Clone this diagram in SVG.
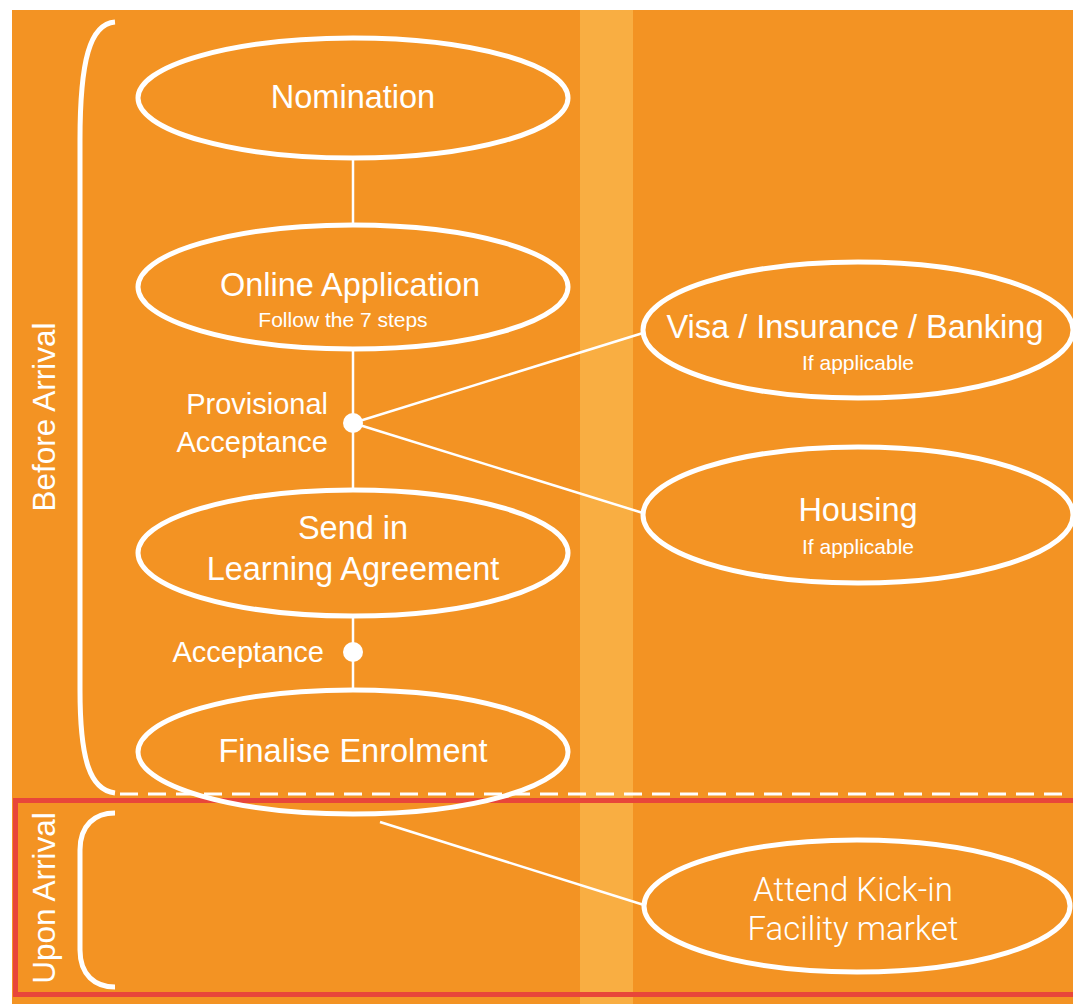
<svg xmlns="http://www.w3.org/2000/svg" width="1073" height="1004" viewBox="0 0 1073 1004">
<style>
.node{fill:none;stroke:#fff;stroke-width:5}
.br{fill:none;stroke:#fff;stroke-width:5;stroke-linecap:butt}
.conn{stroke:#fff;stroke-width:2.5;fill:none}
.t{font-family:"Liberation Sans",Arial,sans-serif;fill:#fff;text-anchor:middle}
.big{font-size:32.5px}
.small{font-size:21px}
.lab{font-family:"Liberation Sans",Arial,sans-serif;fill:#fff;font-size:29px;text-anchor:end}
.side{font-family:"Liberation Sans",Arial,sans-serif;fill:#fff;font-size:31.5px;text-anchor:middle}
.thin{font-family:Roboto,"Liberation Sans",sans-serif;font-weight:300;fill:#fff;font-size:33px;text-anchor:middle}
</style>
<rect x="0" y="0" width="1073" height="1004" fill="#fff"/>
<rect x="12" y="10" width="1061" height="994" fill="#F39323"/>
<rect x="580" y="10" width="53" height="994" fill="#F9AE42"/>
<rect x="15.5" y="800.5" width="1070" height="194" fill="none" stroke="#E8463A" stroke-width="5"/>
<line x1="120" y1="794" x2="1062" y2="794" stroke="#fff" stroke-width="3" stroke-dasharray="18,10"/>
<g id="brackets">
<path class="br" d="M115,22 C90,24 80,60 80,140 L80,690 C80,760 90,790 115,793"/>
<path class="br" d="M115,813 C95,813 80,825 80,850 L80,950 C80,975 95,987 115,987"/>
<text class="side" transform="translate(55,417) rotate(-90)">Before Arrival</text>
<text class="side" transform="translate(55,898) rotate(-90)">Upon Arrival</text>
</g>
<g id="connectors">
<line class="conn" x1="353" y1="158" x2="353" y2="225"/>
<line class="conn" x1="353" y1="350" x2="353" y2="490"/>
<line class="conn" x1="353" y1="617" x2="353" y2="690"/>
<line class="conn" x1="353" y1="423" x2="643" y2="333"/>
<line class="conn" x1="353" y1="423" x2="643" y2="513"/>
<line class="conn" x1="380" y1="822" x2="644" y2="905"/>
<circle cx="353" cy="423" r="10" fill="#fff"/>
<circle cx="353" cy="652" r="10" fill="#fff"/>
<text class="lab" x="328" y="414">Provisional</text>
<text class="lab" x="328" y="452">Acceptance</text>
<text class="lab" x="324" y="662">Acceptance</text>
</g>
<g id="nomination">
<ellipse class="node" cx="353" cy="98" rx="215" ry="60"/>
<text class="t big" x="353" y="108">Nomination</text>
</g>
<g id="online-application">
<ellipse class="node" cx="353" cy="287" rx="215" ry="62"/>
<text class="t big" x="350" y="296">Online Application</text>
<text class="t small" x="343" y="327">Follow the 7 steps</text>
</g>
<g id="learning-agreement">
<ellipse class="node" cx="353" cy="553" rx="215" ry="63"/>
<text class="t big" x="353" y="539">Send in</text>
<text class="t big" x="353" y="580">Learning Agreement</text>
</g>
<g id="finalise-enrolment">
<ellipse class="node" cx="353" cy="752" rx="215" ry="62"/>
<text class="t big" x="353" y="762">Finalise Enrolment</text>
</g>
<g id="visa">
<ellipse class="node" cx="858" cy="330" rx="215" ry="68"/>
<text class="t big" x="855" y="338">Visa / Insurance / Banking</text>
<text class="t small" x="858" y="370">If applicable</text>
</g>
<g id="housing">
<ellipse class="node" cx="858" cy="515" rx="215" ry="68"/>
<text class="t big" x="858" y="521">Housing</text>
<text class="t small" x="858" y="554">If applicable</text>
</g>
<g id="kick-in">
<ellipse class="node" cx="857" cy="906" rx="213" ry="66"/>
<text class="thin" x="853" y="901">Attend Kick-in</text>
<text class="thin" x="853" y="940">Facility market</text>
</g>
</svg>
